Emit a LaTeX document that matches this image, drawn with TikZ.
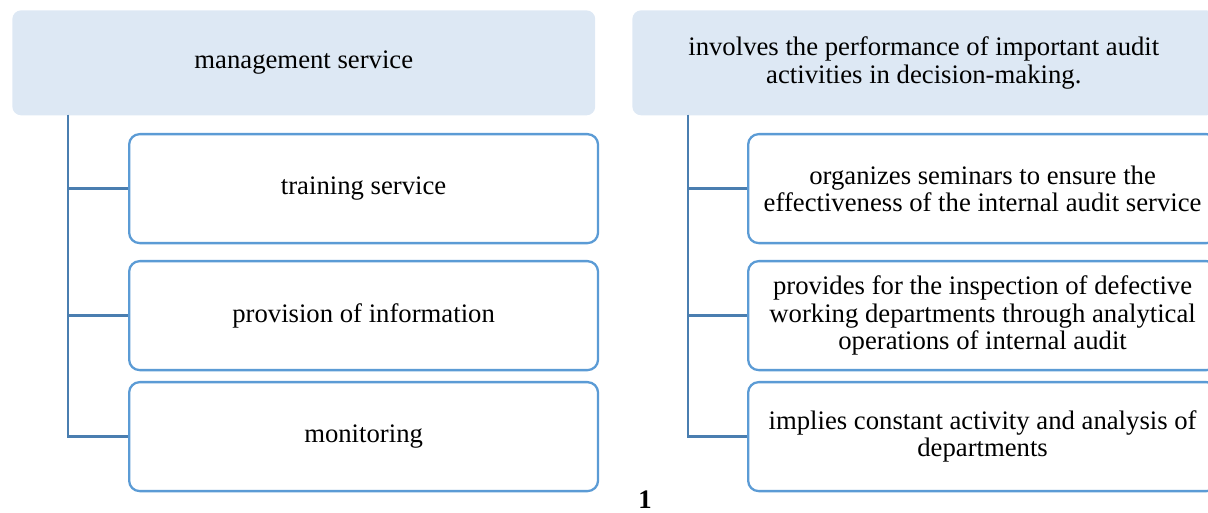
\documentclass[tikz,border=0pt]{standalone}
\usepackage{fontspec}
\setmainfont{Liberation Serif}
\definecolor{headfill}{HTML}{DDE8F4}
\definecolor{boxline}{HTML}{5B9BD5}
\definecolor{treeline}{HTML}{4A7EB0}
\begin{document}
\begin{tikzpicture}[x=0.02cm, y=-0.02cm,
	headbox/.style={fill=headfill, rounded corners=5pt, anchor=north west, inner sep=0pt,
		minimum width=11.66cm, minimum height=2.1cm, align=center, font=\fontsize{15.2}{15.6}\selectfont},
	itembox/.style={draw=boxline, line width=1.3pt, rounded corners=6pt, fill=white, anchor=north west,
		inner sep=0pt, minimum width=9.38cm, minimum height=2.18cm, align=center, font=\fontsize{15.2}{15.6}\selectfont},
	branch/.style={treeline, line width=1.3pt}]
		\useasboundingbox (0,0) rectangle (1208,513);
		\clip (0,0) rectangle (1208,513);
		% Left column
		\node[headbox] (mgmt) at (12,10) {management service};
		\node[itembox] (train) at (128,133) {training service};
		\node[itembox] (info) at (128,260) {provision of information};
		\node[itembox] (monit) at (128,381) {monitoring};
		\coordinate (ltrunk) at (68,115);
		\draw[branch] (ltrunk) |- (train.west);
		\draw[branch] (ltrunk) |- (info.west);
		\draw[branch] (ltrunk) |- (monit.west);
		% Right column
		\node[headbox] (audit) at (632,10) {involves the performance of important audit\\activities in decision-making.};
		\node[itembox] (semin) at (747,133) {organizes seminars to ensure the\\effectiveness of the internal audit service};
		\node[itembox] (inspect) at (747,260) {provides for the inspection of defective\\working departments through analytical\\operations of internal audit};
		\node[itembox] (analys) at (747,381) {implies constant activity and analysis of\\departments};
		\coordinate (rtrunk) at (688,115);
		\draw[branch] (rtrunk) |- (semin.west);
		\draw[branch] (rtrunk) |- (inspect.west);
		\draw[branch] (rtrunk) |- (analys.west);
		% Number
		\node[font=\fontsize{15.2}{15.6}\selectfont\bfseries, anchor=base, inner sep=0pt] (num) at (645,508) {1};
	\end{tikzpicture}
\end{document}
